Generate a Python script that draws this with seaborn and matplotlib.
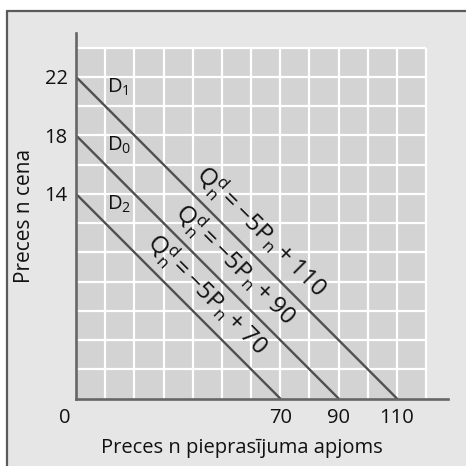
import numpy as np
import pandas as pd
import matplotlib
matplotlib.use("Agg")
import matplotlib.pyplot as plt
import matplotlib.transforms as mtransforms
from matplotlib.patches import Rectangle
from matplotlib.lines import Line2D
import seaborn as sns

# Demand curves: Q = -5P + c
curve_names = ["D$_1$", "D$_0$", "D$_2$"]
q_intercepts = [110, 90, 70]
p_intercepts = [22, 18, 14]
equations = [r"$\mathregular{Q_n^d = -5P_n + 110}$",
             r"$\mathregular{Q_n^d = -5P_n + 90}$",
             r"$\mathregular{Q_n^d = -5P_n + 70}$"]
x_ticks = [70, 90, 110]
y_ticks = [14, 18, 22]
x_label = "Preces n pieprasījuma apjoms"
y_label = "Preces n cena"

sns.set_style("white")
plt.rcParams["font.family"] = ["Open Sans", "DejaVu Sans"]
plt.rcParams["mathtext.fontset"] = "custom"
plt.rcParams["mathtext.rm"] = "Open Sans"

rows = []
for name, c, p0 in zip(curve_names, q_intercepts, p_intercepts):
    rows.append({"curve": name, "Q": 0, "P": p0})
    rows.append({"curve": name, "Q": c, "P": 0})
df = pd.DataFrame(rows)

fig = plt.figure(figsize=(4.66, 4.66), dpi=100)
fig.patch.set_facecolor("white")
W = 466.0
# light gray panel with dark top/left border
fig.patches.append(Rectangle((7 / W, 0), 1, 1 - 11 / W, transform=fig.transFigure,
                             facecolor="#e6e6e6", edgecolor="none", zorder=-10))
fig.lines.append(Line2D([7 / W, 1], [1 - 11 / W, 1 - 11 / W], transform=fig.transFigure,
                        color="#5a5a5a", lw=1.6))
fig.lines.append(Line2D([7 / W, 7 / W], [0, 1 - 11 / W], transform=fig.transFigure,
                        color="#5a5a5a", lw=1.6))

ax = fig.add_axes([76 / W, 1 - 398.5 / W, 372 / W, 365.5 / W])
ax.set_facecolor("none")
ax.set_xlim(0, 127.5)
ax.set_ylim(0, 25)

# gray grid area
ax.add_patch(Rectangle((0, 0), 120, 24, facecolor="#d3d3d3", edgecolor="none", zorder=0))
ax.vlines(np.arange(10, 121, 10), 0, 24, color="white", lw=1.6, zorder=1)
ax.hlines(np.arange(2, 25, 2), 0, 120, color="white", lw=1.6, zorder=1)

sns.lineplot(data=df, x="Q", y="P", hue="curve", units="curve", estimator=None,
             palette=["#505050"] * 3, lw=1.7, legend=False, ax=ax, zorder=3)

for sp in ["top", "right"]:
    ax.spines[sp].set_visible(False)
for sp in ["left", "bottom"]:
    ax.spines[sp].set_color("#666666")
    ax.spines[sp].set_linewidth(1.9)
    ax.spines[sp].set_zorder(4)

ax.set_xticks([0] + x_ticks)
ax.set_yticks(y_ticks)
ax.tick_params(length=0, labelsize=14.5, colors="#111111")
ax.tick_params(axis="x", pad=7)
ax.tick_params(axis="y", pad=6)
lbl0 = ax.get_xticklabels()[0]
lbl0.set_transform(lbl0.get_transform() +
                   mtransforms.ScaledTranslation(-11 / 100, 0, fig.dpi_scale_trans))

ax.set_xlabel(x_label, fontsize=14.5, color="#111111")
ax.xaxis.set_label_coords(0.446, -0.107)
ax.set_ylabel(y_label, fontsize=15, labelpad=7, color="#111111")

# curve names
for name, p0 in zip(curve_names, p_intercepts):
    ax.text(10.6, p0 - 0.7, name, fontsize=14.5, ha="left", va="center", color="#111111")

# equations along each line
eq_x = [58.2, 49.3, 39.6]
for eq, c, xq in zip(equations, q_intercepts, eq_x):
    yp = (c - xq) / 5
    ax.annotate(eq, (xq, yp), xytext=(10.8, 10.8), textcoords="offset points",
                rotation=-45, rotation_mode="anchor", ha="center", va="center",
                fontsize=17.5, color="#111111")

fig.savefig("out.png", dpi=100)
